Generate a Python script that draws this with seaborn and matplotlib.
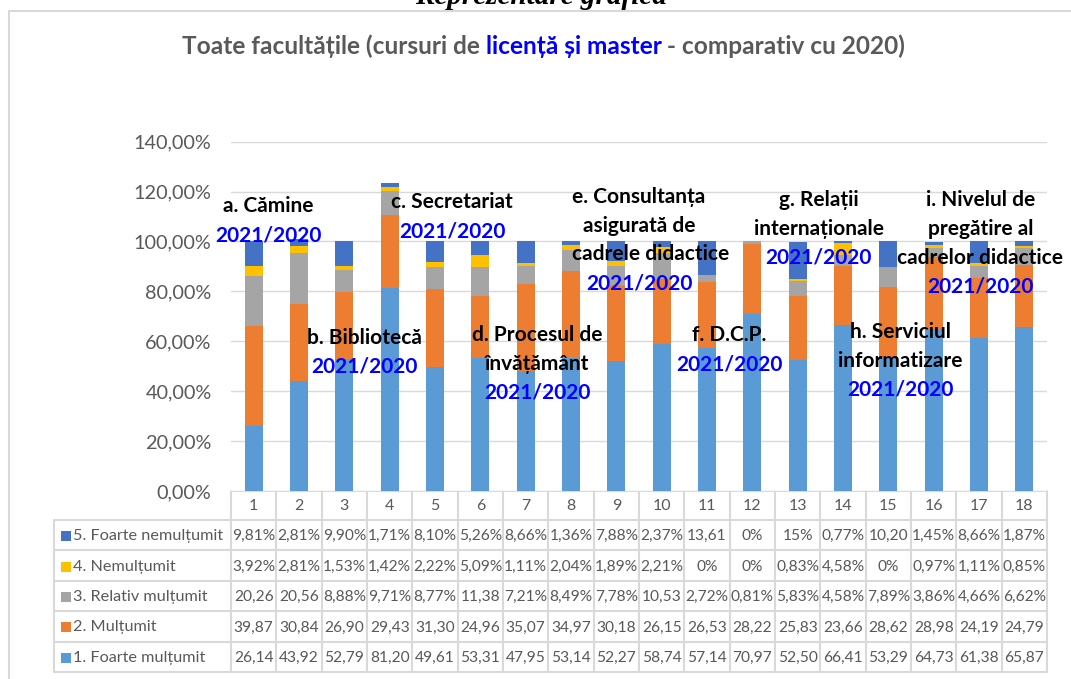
"""Stacked bar chart with Excel-like data table: satisfaction survey, all faculties."""

import matplotlib

matplotlib.use("Agg")
import matplotlib.pyplot as plt
import numpy as np
import seaborn as sns

# $ Data
categories = [str(i) for i in range(1, 19)]
series_names = [
    "1. Foarte mulțumit",
    "2. Mulțumit",
    "3. Relativ mulțumit",
    "4. Nemulțumit",
    "5. Foarte nemulțumit",
]
foarte_multumit = [26.14, 43.92, 52.79, 81.20, 49.61, 53.31, 47.95, 53.14, 52.27,
                   58.74, 57.14, 70.97, 52.50, 66.41, 53.29, 64.73, 61.38, 65.87]
multumit = [39.87, 30.84, 26.90, 29.43, 31.30, 24.96, 35.07, 34.97, 30.18,
            26.15, 26.53, 28.22, 25.83, 23.66, 28.62, 28.98, 24.19, 24.79]
relativ_multumit = [20.26, 20.56, 8.88, 9.71, 8.77, 11.38, 7.21, 8.49, 7.78,
                    10.53, 2.72, 0.81, 5.83, 4.58, 7.89, 3.86, 4.66, 6.62]
nemultumit = [3.92, 2.81, 1.53, 1.42, 2.22, 5.09, 1.11, 2.04, 1.89,
              2.21, 0, 0, 0.83, 4.58, 0, 0.97, 1.11, 0.85]
foarte_nemultumit = [9.81, 2.81, 9.90, 1.71, 8.10, 5.26, 8.66, 1.36, 7.88,
                     2.37, 13.61, 0, 15, 0.77, 10.20, 1.45, 8.66, 1.87]
colors = ["#5B9BD5", "#ED7D31", "#A5A5A5", "#FFC000", "#4472C4"]

yticks = [0, 20, 40, 60, 80, 100, 120, 140]

# group annotations: text lines, then the blue period label
group_labels = [
    ["a. Cămine"],
    ["b. Bibliotecă"],
    ["c. Secretariat"],
    ["d. Procesul de", "învățământ"],
    ["e. Consultanța", "asigurată de", "cadrele didactice"],
    ["f. D.C.P."],
    ["g. Relații", "internaționale"],
    ["h. Serviciul", "informatizare"],
    ["i. Nivelul de", "pregătire al", "cadrelor didactice"],
]
period_label = "2021/2020"
# (x in category units, y of first line in %)
group_pos = [(0.32, 114.2), (2.44, 61.5), (4.38, 115.8), (6.26, 62.5),
             (8.50, 118.0), (10.49, 62.5), (12.46, 116.6), (14.26, 63.7),
             (16.03, 116.6)]
# small horizontal nudges for single lines (group, line) -> category units
line_nudge = {(4, 2): 0.26}

title_parts = [
    ("Toate facultățile (cursuri de ", "#595959"),
    ("licență și master", "#0000FF"),
    (" - comparativ cu 2020)", "#595959"),
]

# $ Layout (pixels)
W, H, DPI = 1071, 679, 100
x0, y_axis = 231, 491          # plot left edge, zero line (from top)
plot_w, plot_h = 816, 349.3
col_w = plot_w / len(categories)
legend_left = 54
header_bottom = 520
row_h = 30.4
grid_color = "#D9D9D9"
text_grey = "#595959"
line_step = 11.6               # annotation line spacing in % units


def fmt_cell(v):
    """Mimic Excel's narrow cells: 4-digit numbers lose the % sign."""
    if v == int(v):
        return f"{int(v)}%"
    if v >= 10:
        return f"{v:.2f}".replace(".", ",")
    return f"{v:.2f}%".replace(".", ",")


sns.set_style("white")
plt.rcParams["font.family"] = ["Lato", "DejaVu Sans"]

fig = plt.figure(figsize=(W / DPI, H / DPI), dpi=DPI)
ax = fig.add_axes([x0 / W, 1 - y_axis / H, plot_w / W, plot_h / H])

# Stacked bars: draw cumulative totals, tallest first
series = np.array([foarte_multumit, multumit, relativ_multumit, nemultumit,
                   foarte_nemultumit])
cum = np.cumsum(series, axis=0)
for i in range(len(series) - 1, -1, -1):
    sns.barplot(x=categories, y=cum[i], order=categories, color=colors[i],
                saturation=1, width=0.4, linewidth=0, errorbar=None, ax=ax)

ax.set_xlim(-0.5, len(categories) - 0.5)
ax.set_ylim(0, 140)
ax.set_yticks(yticks)
ax.set_yticklabels([f"{v:.2f}%".replace(".", ",") for v in yticks])
ax.tick_params(axis="y", length=0, pad=14, labelsize=14.3, labelcolor=text_grey)
ax.tick_params(axis="x", length=0, labelbottom=False)
ax.set_xlabel("")
ax.set_ylabel("")
ax.yaxis.grid(True, color=grid_color, linewidth=1)
ax.set_axisbelow(True)
for s in ax.spines.values():
    s.set_visible(False)

# Group annotations
for g, (lines, (gx, gy)) in enumerate(zip(group_labels, group_pos)):
    for k, line in enumerate(lines):
        ax.text(gx + line_nudge.get((g, k), 0), gy - k * line_step, line,
                ha="center", va="center", fontsize=15, fontweight="bold",
                color="black", clip_on=False)
    ax.text(gx, gy - len(lines) * line_step, period_label, ha="center",
            va="center", fontsize=15, fontweight="bold", color="#0000FF",
            clip_on=False)

# $ Overlay in pixel coordinates: border, titles, data table
ov = fig.add_axes([0, 0, 1, 1], zorder=-1)
ov.set_xlim(0, W)
ov.set_ylim(H, 0)
ov.axis("off")

# chart area border
ov.plot([9, 9, W], [H, 11, 11], color=grid_color, linewidth=1.5)

# heading above chart (cut off at top, as in the source page)
ov.text(541, 4, "Reprezentare grafică", ha="center", va="baseline",
        fontsize=21, fontweight="bold", fontstyle="italic",
        family=["Liberation Serif", "DejaVu Serif"], color="black")

# multi-coloured title
renderer = fig.canvas.get_renderer()
pieces = [ov.text(0, 54, txt, ha="left", va="baseline", fontsize=17.6,
                  fontweight="bold", color=c) for txt, c in title_parts]
widths = [p.get_window_extent(renderer).width for p in pieces]
start = 543.5 - sum(widths) / 2
for p, w in zip(pieces, widths):
    p.set_x(start)
    start += w

# table grid
table_bottom = header_bottom + row_h * len(series_names)
right = x0 + plot_w
ov.plot([x0, right], [y_axis, y_axis], color=grid_color, linewidth=1.5)
for k in range(len(series_names) + 1):
    yy = header_bottom + k * row_h
    ov.plot([legend_left, right], [yy, yy], color=grid_color, linewidth=1.5)
for k in range(len(categories) + 1):
    xx = x0 + k * col_w
    ov.plot([xx, xx], [y_axis, table_bottom], color=grid_color, linewidth=1.5)
ov.plot([legend_left, legend_left], [header_bottom, table_bottom],
        color=grid_color, linewidth=1.5)

# header row with category numbers
for j, cat in enumerate(categories):
    ov.text(x0 + (j + 0.5) * col_w, (y_axis + header_bottom) / 2 + 1, cat,
            ha="center", va="center", fontsize=11.5, color=text_grey)

# rows: top row is series 5
for r, si in enumerate(range(len(series_names) - 1, -1, -1)):
    yc = header_bottom + (r + 0.5) * row_h + 1
    ov.scatter([66], [yc], marker="s", s=60, color=colors[si], linewidths=0)
    ov.text(73, yc, series_names[si], ha="left", va="center", fontsize=11.7,
            color=text_grey)
    for j, v in enumerate(series[si]):
        ov.text(x0 + (j + 0.5) * col_w, yc, fmt_cell(v), ha="center",
                va="center", fontsize=11.2, color=text_grey)

fig.savefig("out.png", dpi=DPI)
plt.close(fig)
